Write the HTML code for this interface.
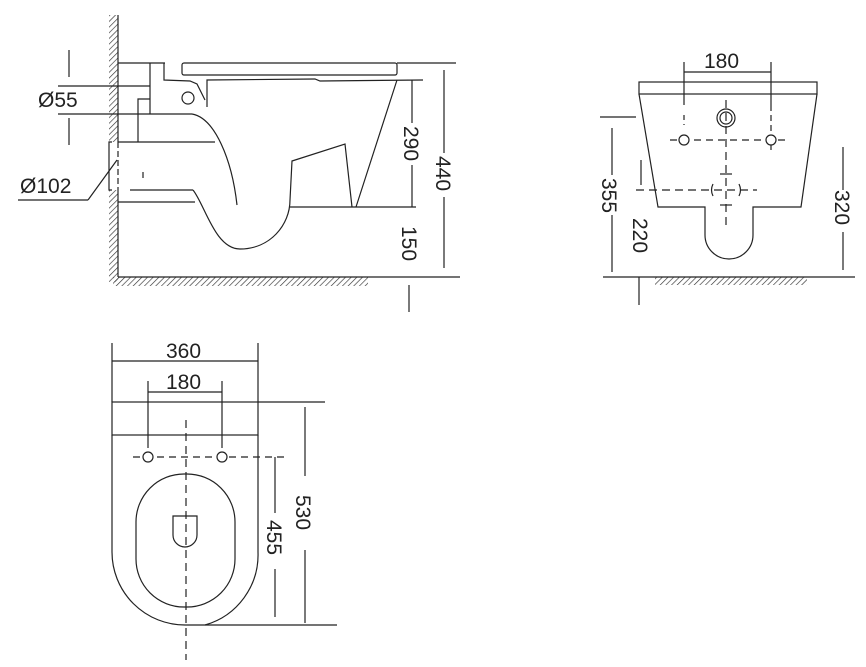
<!DOCTYPE html>
<html><head><style>html,body{margin:0;padding:0;background:#fff}svg{display:block}</style></head>
<body>
<svg width="866" height="667" viewBox="0 0 866 667" xmlns="http://www.w3.org/2000/svg" font-family="Liberation Sans, sans-serif" font-size="21" fill="none" stroke="#222" stroke-width="1.2">
<defs>
<pattern id="h" width="4" height="4" patternUnits="userSpaceOnUse" patternTransform="rotate(45)">
<line x1="0" y1="0" x2="0" y2="4" stroke="#333" stroke-width="1.3"/>
</pattern>
</defs>
<!-- SIDE VIEW -->
<rect x="109" y="15" width="9" height="127" fill="url(#h)" stroke="none"/>
<rect x="109" y="190" width="9" height="92" fill="url(#h)" stroke="none"/>
<rect x="113" y="277" width="255" height="9" fill="url(#h)" stroke="none"/>
<line x1="118" y1="15" x2="118" y2="142"/>
<line x1="118" y1="190" x2="118" y2="277"/>
<line x1="118" y1="277" x2="460" y2="277"/>
<polyline points="112,142 109,142 109,190 112,190"/>
<line x1="118" y1="142" x2="118" y2="190" stroke-dasharray="6,3"/>
<line x1="118" y1="63" x2="165" y2="63"/>
<rect x="182" y="63" width="215" height="12" rx="2"/>
<line x1="397" y1="63" x2="456" y2="63"/>
<polyline points="150,63 150,114"/>
<polyline points="164,63 164,80 190,81 197,84 205,100"/>
<line x1="118" y1="86" x2="150" y2="86"/>
<line x1="58" y1="86" x2="118" y2="86"/>
<line x1="58" y1="114" x2="192" y2="114"/>
<polyline points="138,142 138,99 150,99"/>
<circle cx="188" cy="98" r="6"/>
<polyline points="207,107 207,80 315,79 320,81 423,80"/>
<line x1="397" y1="80" x2="356" y2="207"/>
<line x1="290" y1="207" x2="416" y2="207"/>
<path d="M192,114 C215,118 232,160 237,205"/>
<line x1="118" y1="142" x2="215" y2="142"/>
<line x1="130" y1="190" x2="193" y2="190"/>
<line x1="118" y1="202" x2="195" y2="202"/>
<line x1="143" y1="172" x2="143" y2="178"/>
<path d="M193,190 C205,205 215,249 240,249 C270,249 290,225 290,200 L292,161 L345,144 L352,207"/>
<!-- dims side -->
<line x1="412" y1="80" x2="412" y2="123"/>
<line x1="412" y1="165" x2="412" y2="207"/>
<line x1="444" y1="70" x2="444" y2="153"/>
<line x1="444" y1="197" x2="444" y2="268"/>
<line x1="409" y1="285" x2="409" y2="312"/>
<line x1="69" y1="50" x2="69" y2="77"/>
<line x1="69" y1="118" x2="69" y2="145"/>
<line x1="18" y1="200" x2="88" y2="200"/>
<line x1="88" y1="200" x2="117" y2="160"/>
<g fill="#222" stroke="none">
<text x="38" y="107">Ø55</text>
<text x="20" y="193">Ø102</text>
<text transform="translate(404,126) rotate(90)">290</text>
<text transform="translate(436,156) rotate(90)">440</text>
<text transform="translate(402,226) rotate(90)">150</text>
</g>
<!-- FRONT VIEW -->
<rect x="655" y="277" width="152" height="8" fill="url(#h)" stroke="none"/>
<line x1="603" y1="277" x2="855" y2="277"/>
<rect x="639" y="82" width="178" height="12"/>
<path d="M639,94 L658,207 L705,207 L705,235 A24,24 0 0 0 753,235 L753,207 L801,207 L817,94"/>
<line x1="684" y1="62" x2="684" y2="105"/>
<line x1="771" y1="62" x2="771" y2="105"/>
<line x1="684" y1="72" x2="771" y2="72"/>
<line x1="684" y1="115" x2="684" y2="125" stroke-dasharray="5,4"/>
<line x1="771" y1="105" x2="771" y2="150" stroke-dasharray="6,4"/>
<line x1="670" y1="140" x2="787" y2="140" stroke-dasharray="7,5"/>
<line x1="726" y1="100" x2="726" y2="225" stroke-dasharray="8,5"/>
<circle cx="726" cy="118" r="9"/><circle cx="726" cy="118" r="6"/>
<circle cx="684" cy="140" r="5" fill="#fff"/><circle cx="771" cy="140" r="5" fill="#fff"/>
<line x1="636" y1="190" x2="757" y2="190" stroke-dasharray="8,5"/>
<line x1="720" y1="174" x2="732" y2="174"/>
<line x1="720" y1="205" x2="732" y2="205"/>
<path d="M713,184 Q710,190 713,196 M739,184 Q742,190 739,196"/>
<line x1="600" y1="117" x2="636" y2="117"/>
<line x1="612" y1="128" x2="612" y2="175"/>
<line x1="612" y1="215" x2="612" y2="272"/>
<line x1="641" y1="160" x2="641" y2="185"/>
<line x1="843" y1="147" x2="843" y2="190"/>
<line x1="843" y1="232" x2="843" y2="270"/>
<line x1="639" y1="277" x2="639" y2="305"/>
<g fill="#222" stroke="none">
<text x="704" y="68">180</text>
<text transform="translate(602,178) rotate(90)">355</text>
<text transform="translate(633,218) rotate(90)">220</text>
<text transform="translate(835,190) rotate(90)">320</text>
</g>
<!-- TOP VIEW -->
<line x1="112" y1="343" x2="112" y2="402"/>
<line x1="258" y1="343" x2="258" y2="402"/>
<line x1="112" y1="361" x2="258" y2="361"/>
<line x1="148" y1="381" x2="148" y2="448"/>
<line x1="222" y1="381" x2="222" y2="448"/>
<line x1="148" y1="392" x2="222" y2="392"/>
<line x1="258" y1="402" x2="325" y2="402"/>
<rect x="112" y="402" width="146" height="33"/>
<path d="M112,435 L112,552 A73,73 0 0 0 185,625 L205,625 A73,73 0 0 0 258,552 L258,435"/>
<line x1="205" y1="625" x2="337" y2="625"/>
<rect x="136" y="474" width="99" height="133" rx="48"/>
<path d="M173,516 L197,516 L197,535 A12,12 0 0 1 173,535 Z"/>
<line x1="186" y1="420" x2="186" y2="660" stroke-dasharray="8,5"/>
<line x1="133" y1="457" x2="285" y2="457" stroke-dasharray="7,5"/>
<circle cx="148" cy="457" r="5" fill="#fff"/><circle cx="222" cy="457" r="5" fill="#fff"/>
<line x1="305" y1="407" x2="305" y2="476"/>
<line x1="305" y1="550" x2="305" y2="623"/>
<line x1="275" y1="457" x2="275" y2="513"/>
<line x1="275" y1="569" x2="275" y2="617"/>
<g fill="#222" stroke="none">
<text x="166" y="358">360</text>
<text x="166" y="389">180</text>
<text transform="translate(296,495) rotate(90)">530</text>
<text transform="translate(267,520) rotate(90)">455</text>
</g>
</svg>
</body></html>
